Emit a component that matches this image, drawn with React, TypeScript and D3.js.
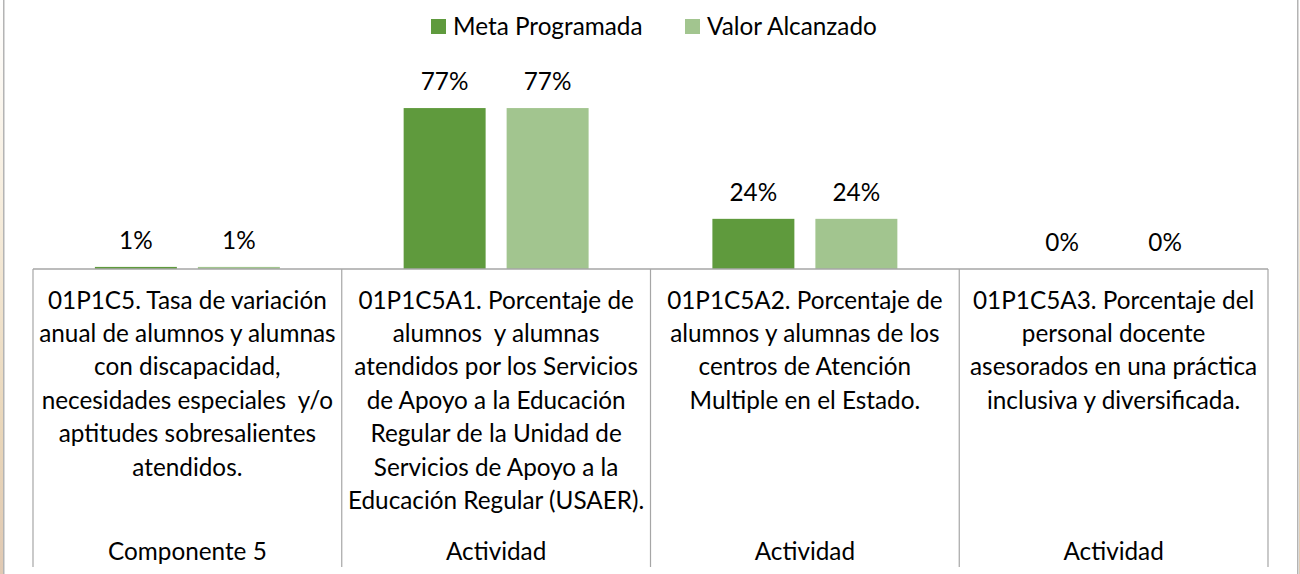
import React from 'react';
import * as d3 from 'd3';

const categoryIds = ['01P1C5', '01P1C5A1', '01P1C5A2', '01P1C5A3'];
const categoryLines: string[][] = [
  ['01P1C5. Tasa de variación', 'anual de alumnos y alumnas', 'con discapacidad,', 'necesidades especiales  y/o', 'aptitudes sobresalientes', 'atendidos.'],
  ['01P1C5A1. Porcentaje de', 'alumnos  y alumnas', 'atendidos por los Servicios', 'de Apoyo a la Educación', 'Regular de la Unidad de', 'Servicios de Apoyo a la', 'Educación Regular (USAER).'],
  ['01P1C5A2. Porcentaje de', 'alumnos y alumnas de los', 'centros de Atención', 'Multiple en el Estado.'],
  ['01P1C5A3. Porcentaje del', 'personal docente', 'asesorados en una práctica', 'inclusiva y diversificada.'],
];
const groupLabels = ['Componente 5', 'Actividad', 'Actividad', 'Actividad'];
const seriesNames = ['Meta Programada', 'Valor Alcanzado'];
const metaProgramada = [0.01, 0.77, 0.24, 0];
const valorAlcanzado = [0.01, 0.77, 0.24, 0];
const seriesColors = ['#5f9a3d', '#a2c58f'];

const W = 1300;
const H = 574;
const FONT = 'Lato, Carlito, Calibri, sans-serif';
const FS = 24.3;

export default function App() {
  const series = [metaProgramada, valorAlcanzado];
  const x = d3.scaleBand<string>().domain(categoryIds).range([33, 1268]).padding(0);
  const xs = d3
    .scaleBand<number>()
    .domain([0, 1])
    .range([0, x.bandwidth()])
    .paddingInner(0.204)
    .paddingOuter(0.601);
  const y = d3.scaleLinear().domain([0, 1]).range([269, 60]);
  const fmt = d3.format('.0%');
  const baseY = y(0);
  const axisBottom = 567;
  const lineH = 33.4;

  return (
    <svg
      width={W}
      height={H}
      style={{ position: 'absolute', left: 0, top: 0, background: '#fff' }}
      fontFamily={FONT}
    >
      <defs>
        <linearGradient id="edge" x1="0" y1="0" x2="0" y2="1">
          <stop offset="0%" stopColor="#ffffff" />
          <stop offset="35%" stopColor="#f6eddd" />
          <stop offset="75%" stopColor="#e9d6b9" />
          <stop offset="100%" stopColor="#e0c9b3" />
        </linearGradient>
      </defs>
      <rect x={0} y={0} width={W} height={H} fill="#fff" />
      {/* frame edges */}
      <rect x={0} y={0} width={3} height={H} fill="url(#edge)" />
      <rect x={1299} y={0} width={1} height={H} fill="url(#edge)" />
      <line x1={3.75} x2={3.75} y1={0} y2={H} stroke="#b4b4b4" strokeWidth={1.5} />
      <line x1={1297.75} x2={1297.75} y1={0} y2={H} stroke="#b4b4b4" strokeWidth={1.5} />

      {/* legend */}
      {seriesNames.map((n, i) => {
        const lx = [431, 685][i];
        return (
          <g key={n}>
            <rect x={lx} y={19} width={15} height={15} fill={seriesColors[i]} />
            <text x={lx + 22} y={35} fontSize={FS} fill="#000">
              {n}
            </text>
          </g>
        );
      })}

      {/* bars */}
      {categoryIds.map((c, ci) =>
        series.map((s, si) => {
          const bx = (x(c) as number) + (xs(si) as number);
          const v = s[ci];
          const top = y(v);
          return (
            <g key={c + si}>
              {v > 0 && (
                <rect x={bx} y={top} width={xs.bandwidth()} height={baseY - top} fill={seriesColors[si]} />
              )}
              <text
                x={bx + xs.bandwidth() / 2}
                y={top - 18}
                fontSize={FS}
                textAnchor="middle"
                fill="#000"
              >
                {fmt(v)}
              </text>
            </g>
          );
        })
      )}

      {/* axis */}
      <line x1={33} x2={1268} y1={baseY} y2={baseY} stroke="#a6a6a6" strokeWidth={1.5} />
      {[...categoryIds.map((c) => x(c) as number), 1268].map((vx, i) => (
        <line key={i} x1={vx} x2={vx} y1={baseY} y2={axisBottom} stroke="#a6a6a6" strokeWidth={1.2} />
      ))}

      {/* category labels */}
      {categoryIds.map((c, ci) => {
        const cx = (x(c) as number) + x.bandwidth() / 2;
        return (
          <g key={c}>
            {categoryLines[ci].map((ln, li) => (
              <text
                key={li}
                x={cx}
                y={308.5 + li * lineH}
                fontSize={FS}
                textAnchor="middle"
                fill="#000"
                style={{ whiteSpace: 'pre' }}
              >
                {ln}
              </text>
            ))}
            <text x={cx} y={560} fontSize={FS} textAnchor="middle" fill="#000">
              {groupLabels[ci]}
            </text>
          </g>
        );
      })}
    </svg>
  );
}
